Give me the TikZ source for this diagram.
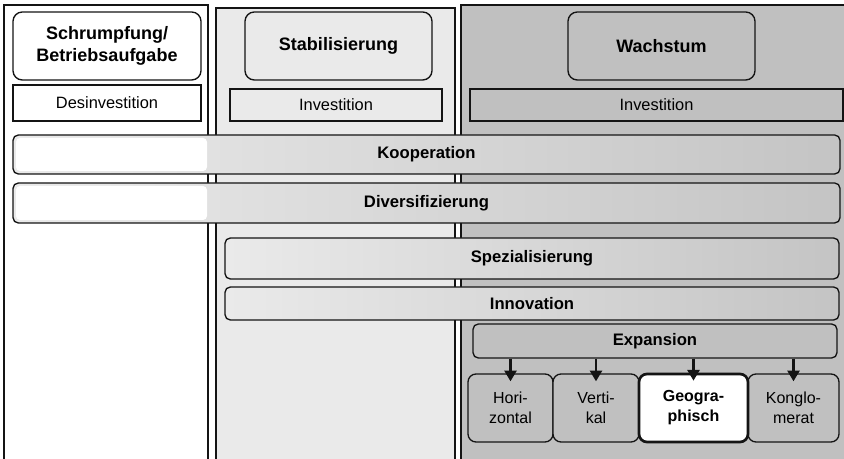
\documentclass[tikz,border=0pt]{standalone}
\usepackage{fontspec}
\setmainfont{Liberation Sans}
\usetikzlibrary{arrows.meta}
\definecolor{stabgray}{RGB}{234,234,234}
\definecolor{wachsgray}{RGB}{192,192,192}
\definecolor{barleft}{RGB}{234,234,234}
\definecolor{barright}{RGB}{196,196,196}
\definecolor{inkgray}{RGB}{20,20,20}

\begin{document}
\begin{tikzpicture}[x=0.75pt,y=0.75pt,yscale=-1,xscale=1,
  colframe/.style={draw=inkgray,line width=1pt},
  headbox/.style={draw=inkgray,line width=1pt,rounded corners=7pt,align=center,
    font=\fontsize{13.5}{16.5}\selectfont\bfseries,minimum height=51pt,inner sep=0pt},
  investbox/.style={draw=inkgray,line width=1pt,font=\fontsize{12.3}{14}\selectfont,inner sep=0pt},
  barbox/.style={draw=inkgray,line width=1pt,rounded corners=4pt,left color=barleft,right color=barright,
    font=\fontsize{12.5}{14}\selectfont\bfseries,inner sep=0pt},
  subbox/.style={draw=inkgray,line width=1pt,rounded corners=6pt,fill=wachsgray,align=center,
    font=\fontsize{12}{15}\selectfont,minimum height=51pt,inner sep=0pt},
  arrowline/.style={draw=inkgray,line width=1.8pt,-{Triangle[length=8pt,width=9pt]},shorten >=-6pt}]
\useasboundingbox (0,0) rectangle (844,459);
\clip (0,0) rectangle (844,459);

% columns
\draw [colframe,fill=white] (4,5) rectangle (208,470);
\draw [colframe,fill=stabgray] (216,8) rectangle (455,470);
\draw [colframe,fill=wachsgray] (461,5) rectangle (860,470);

% column heads
\node [headbox,fill=white,minimum width=141pt] (schrumpf) at (107,46) {Schrumpfung/\\Betriebsaufgabe};
\node [headbox,fill=stabgray,minimum width=140.25pt] (stabil) at (338.5,46) {Stabilisierung};
\node [headbox,fill=wachsgray,minimum width=140.25pt] (wachstum) at (661.5,46) {Wachstum};

% investment boxes
\node [investbox,fill=white,minimum width=141pt,minimum height=27pt] (desinv) at (107,103) {Desinvestition};
\node [investbox,fill=stabgray,minimum width=159pt,minimum height=24pt] (invstab) at (336,105) {Investition};
\node [investbox,fill=wachsgray,minimum width=279.75pt,minimum height=24pt] (invwachs) at (656.5,105) {Investition};

% strategy bars
\node [barbox,minimum width=620.25pt,minimum height=29.25pt] (koop) at (426.5,154.5) {Kooperation};
\fill [white,rounded corners=3pt] (16,138) rectangle (207,171);
\node [barbox,minimum width=620.25pt,minimum height=30pt] (divers) at (426.5,203) {Diversifizierung};
\fill [white,rounded corners=3pt] (16,186) rectangle (207,220);
\node [barbox,minimum width=460.5pt,minimum height=30.75pt] (spez) at (532,258.5) {Spezialisierung};
\node [barbox,minimum width=460.5pt,minimum height=24.75pt] (innov) at (532,303.5) {Innovation};
\node [barbox,left color=wachsgray,right color=wachsgray,minimum width=273pt,minimum height=25.5pt] (expan) at (655,341) {Expansion};

% expansion types
\node [subbox,minimum width=63.75pt] (hori) at (510.5,408) {Hori-\\zontal};
\node [subbox,minimum width=64.5pt] (verti) at (596,408) {Verti-\\kal};
\node [subbox,minimum width=68.25pt] (konglo) at (793.5,408) {Konglo-\\merat};
\node [subbox,fill=white,line width=2pt,minimum width=81.75pt,font=\fontsize{12}{15}\selectfont\bfseries] (geo) at (693.5,408) {Geogra-\\phisch};

\draw [arrowline] (expan.south -| hori.north) -- (hori.north);
\draw [arrowline] (expan.south -| verti.north) -- (verti.north);
\draw [arrowline] (expan.south -| geo.north) -- (geo.north);
\draw [arrowline] (expan.south -| konglo.north) -- (konglo.north);

\end{tikzpicture}
\end{document}
